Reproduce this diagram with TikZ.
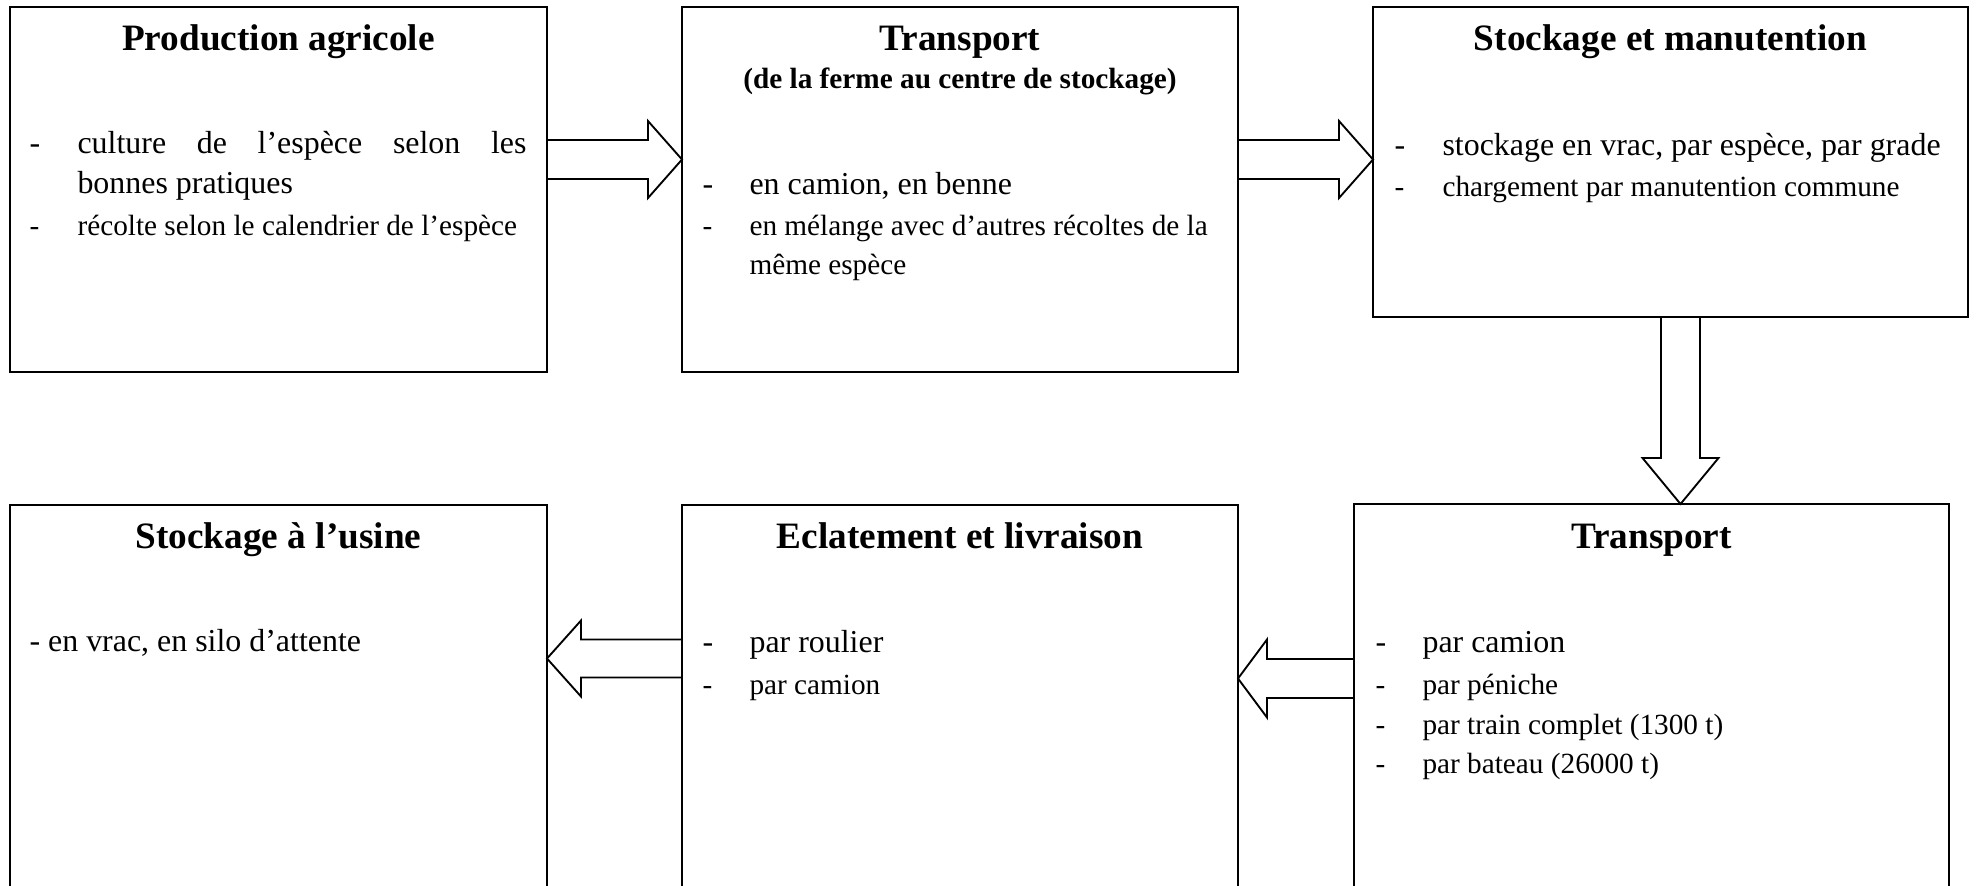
\documentclass[tikz,border=0pt]{standalone}
\usepackage{fontspec}
\setmainfont{Liberation Serif}
\usetikzlibrary{calc}

% one drawing unit
\newdimen\pxu \pxu=0.3759pt
\newcommand\pxd{0.3759pt}

\tikzset{
  stagebox/.style={draw, line width=0.75pt, inner sep=0pt, outer sep=0pt},
  stagetitle/.style={anchor=base, inner sep=0pt, font=\fontsize{14}{16}\selectfont\bfseries},
  stagesub/.style={anchor=base, inner sep=0pt, font=\fontsize{11}{13}\selectfont\bfseries},
  itemA/.style={anchor=base west, inner sep=0pt, font=\fontsize{12}{14}\selectfont},
  itemB/.style={anchor=base west, inner sep=0pt, font=\fontsize{11}{13}\selectfont},
  blockarrow/.style={draw, line width=0.7pt, line join=miter},
}

% hollow block arrow from #1 to #2: shaft half width #3, head half width #4, head length #5
\newcommand\flowarrow[5]{%
  \coordinate (fa-b) at ($(#2)!#5*\pxd!(#1)$);
  \draw[blockarrow]
    ($(#1)!#3*\pxd!90:(#2)$) -- ($(fa-b)!#3*\pxd!90:(#2)$)
    -- ($(fa-b)!#4*\pxd!90:(#2)$) -- (#2)
    -- ($(fa-b)!#4*\pxd!-90:(#2)$) -- ($(fa-b)!#3*\pxd!-90:(#2)$)
    -- ($(#1)!#3*\pxd!-90:(#2)$);
}

\begin{document}
\begin{tikzpicture}[x=0.3759pt, y=-0.3759pt]
\useasboundingbox (0,0) rectangle (1977,885);
\clip (0,0) rectangle (1977,885);

% stage boxes
\node[stagebox, minimum width=537*\pxd, minimum height=365*\pxd] (p1) at (278.5,189.5) {};
\node[stagebox, minimum width=556*\pxd, minimum height=365*\pxd] (p2) at (960,189.5) {};
\node[stagebox, minimum width=595*\pxd, minimum height=310*\pxd] (p3) at (1670.5,162) {};
\node[stagebox, minimum width=537*\pxd, minimum height=400*\pxd] (p4) at (278.5,705) {};
\node[stagebox, minimum width=556*\pxd, minimum height=400*\pxd] (p5) at (960,705) {};
\node[stagebox, minimum width=595*\pxd, minimum height=401*\pxd] (p6) at (1651.5,704.5) {};

% titles
\node[stagetitle] (t1) at (278.5,50) {Production agricole};
\node[stagetitle] (t2) at (960,50) {Transport};
\node[stagesub]   (s2) at (960,88.5) {(de la ferme au centre de stockage)};
\node[stagetitle] (t3) at (1670.5,50) {Stockage et manutention};
\node[stagetitle] (t4) at (278.5,548) {Stockage à l’usine};
\node[stagetitle] (t5) at (960,548) {Eclatement et livraison};
\node[stagetitle] (t6) at (1651.5,548) {Transport};

% production agricole
\node[itemA] (d11) at (29,153) {-};
\node[itemA] (i11) at (77,153) {\makebox[449\pxu][s]{culture de l’espèce selon les}};
\node[itemA] (i12) at (77,193) {bonnes pratiques};
\node[itemB] (d13) at (29,235) {-};
\node[itemB] (i13) at (77,235) {récolte selon le calendrier de l’espèce};

% transport vers le centre de stockage
\node[itemA] (d21) at (702,194) {-};
\node[itemA] (i21) at (749,194) {en camion, en benne};
\node[itemB] (d22) at (702,235) {-};
\node[itemB] (i22) at (749,235) {en mélange avec d’autres récoltes de la};
\node[itemB] (i23) at (749,274.5) {même espèce};

% stockage et manutention
\node[itemA] (d31) at (1394,155.5) {-};
\node[itemA] (i31) at (1442,155.5) {stockage en vrac, par espèce, par grade};
\node[itemB] (d32) at (1394,196) {-};
\node[itemB] (i32) at (1442,196) {chargement par manutention commune};

% stockage à l'usine
\node[itemA] (i41) at (29,651.7) {- en vrac, en silo d’attente};

% eclatement et livraison
\node[itemA] (d51) at (702,652) {-};
\node[itemA] (i51) at (749,652) {par roulier};
\node[itemB] (d52) at (702,694) {-};
\node[itemB] (i52) at (749,694) {par camion};

% transport longue distance
\node[itemA] (d61) at (1375,652) {-};
\node[itemA] (i61) at (1422,652) {par camion};
\node[itemB] (d62) at (1375,694) {-};
\node[itemB] (i62) at (1422,694) {par péniche};
\node[itemB] (d63) at (1375,734) {-};
\node[itemB] (i63) at (1422,734) {par train complet (1300 t)};
\node[itemB] (d64) at (1375,773) {-};
\node[itemB] (i64) at (1422,773) {par bateau (26000 t)};

% arrow axes
\coordinate (rowA) at (0,159.5);
\coordinate (rowB) at (0,658.5);
\coordinate (rowC) at (0,678.5);
\coordinate (colA) at (1680.5,0);

\coordinate (a1s) at (p1.east |- rowA);  \coordinate (a1e) at (p2.west |- rowA);
\coordinate (a2s) at (p2.east |- rowA);  \coordinate (a2e) at (p3.west |- rowA);
\coordinate (a3s) at (p3.south -| colA); \coordinate (a3e) at (p6.north -| colA);
\coordinate (a4s) at (p6.west |- rowC);  \coordinate (a4e) at (p5.east |- rowC);
\coordinate (a5s) at (p5.west |- rowB);  \coordinate (a5e) at (p4.east |- rowB);

\flowarrow{a1s}{a1e}{19.5}{38.5}{34}
\flowarrow{a2s}{a2e}{19.5}{38.5}{34}
\flowarrow{a3s}{a3e}{19.5}{38}{46}
\flowarrow{a4s}{a4e}{19.5}{39}{29}
\flowarrow{a5s}{a5e}{19}{38}{34}
\end{tikzpicture}
\end{document}
